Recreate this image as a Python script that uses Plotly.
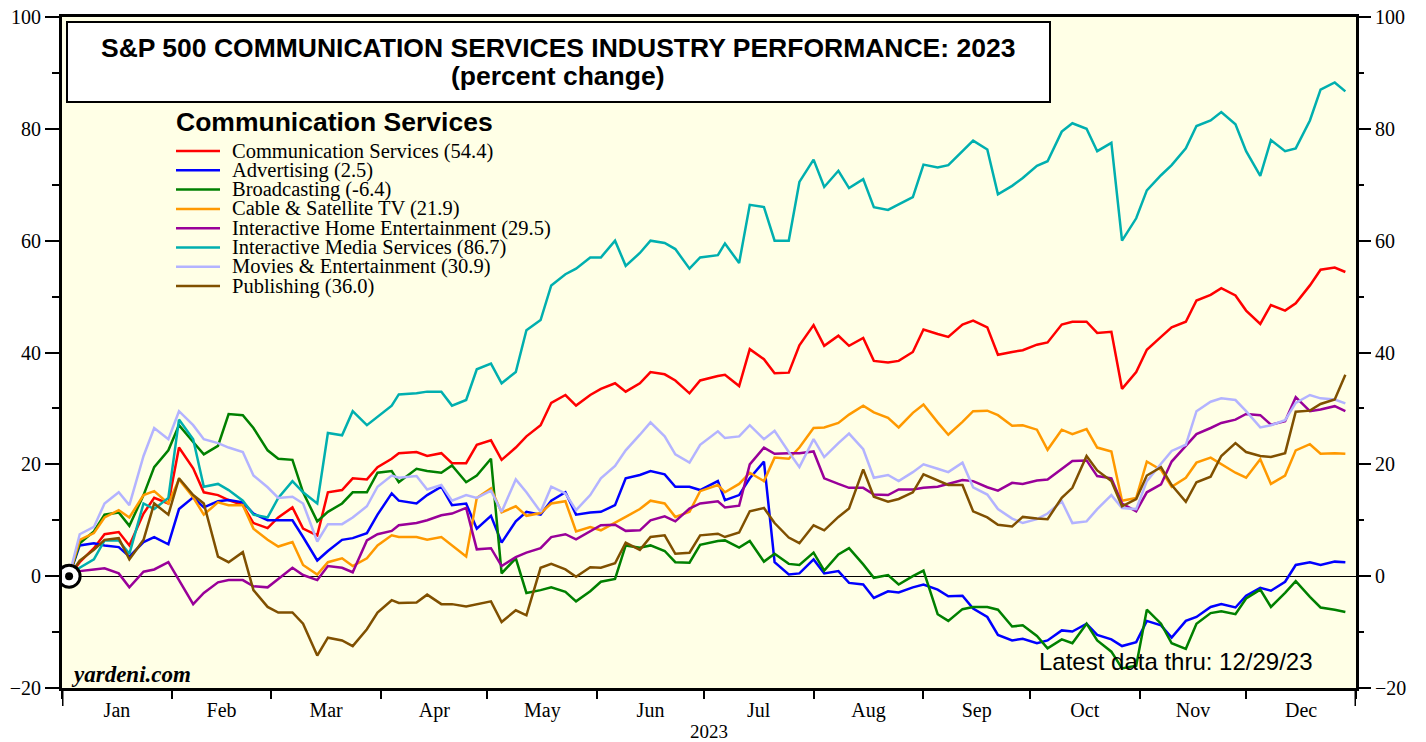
import plotly.graph_objects as go

# ---------------- data ----------------
dates = (
    ["2023-01-03", "2023-01-06", "2023-01-10", "2023-01-13", "2023-01-17", "2023-01-20", "2023-01-24", "2023-01-27", "2023-01-31"]
    + ["2023-02-03", "2023-02-07", "2023-02-10", "2023-02-14", "2023-02-17", "2023-02-21", "2023-02-24", "2023-02-28"]
    + ["2023-03-03", "2023-03-07", "2023-03-10", "2023-03-14", "2023-03-17", "2023-03-21", "2023-03-24", "2023-03-28", "2023-03-31"]
    + ["2023-04-04", "2023-04-06", "2023-04-11", "2023-04-14", "2023-04-18", "2023-04-21", "2023-04-25", "2023-04-28"]
    + ["2023-05-02", "2023-05-05", "2023-05-09", "2023-05-12", "2023-05-16", "2023-05-19", "2023-05-23", "2023-05-26", "2023-05-30"]
    + ["2023-06-02", "2023-06-06", "2023-06-09", "2023-06-13", "2023-06-16", "2023-06-20", "2023-06-23", "2023-06-27", "2023-06-30"]
    + ["2023-07-05", "2023-07-07", "2023-07-11", "2023-07-14", "2023-07-18", "2023-07-21", "2023-07-25", "2023-07-28"]
    + ["2023-08-01", "2023-08-04", "2023-08-08", "2023-08-11", "2023-08-15", "2023-08-18", "2023-08-22", "2023-08-25", "2023-08-29"]
    + ["2023-09-01", "2023-09-05", "2023-09-08", "2023-09-12", "2023-09-15", "2023-09-19", "2023-09-22", "2023-09-26", "2023-09-29"]
    + ["2023-10-03", "2023-10-06", "2023-10-10", "2023-10-13", "2023-10-17", "2023-10-20", "2023-10-24", "2023-10-27", "2023-10-31"]
    + ["2023-11-03", "2023-11-07", "2023-11-10", "2023-11-14", "2023-11-17", "2023-11-21", "2023-11-24", "2023-11-28"]
    + ["2023-12-01", "2023-12-05", "2023-12-08", "2023-12-12", "2023-12-15", "2023-12-19", "2023-12-22", "2023-12-26", "2023-12-29"]
)

communication_services = (
    [0, 2.5, 5, 7.5, 7.9, 5.5, 11.2, 14, 13]
    + [23, 19.3, 15, 14.5, 13.6, 12.7, 9.5, 8.6]
    + [10.5, 12.3, 8.5, 7.3, 15, 15.4, 17.5, 17.3, 19.5]
    + [21, 22, 22.2, 21.5, 22, 20.2, 20.2, 23.5]
    + [24.3, 20.8, 23, 25, 27, 31, 32.4, 30.5, 32.4]
    + [33.5, 34.5, 33, 34.5, 36.5, 36.1, 35, 32.7, 35]
    + [35.8, 36, 34, 40.6, 38.8, 36.3, 36.4, 41.3]
    + [44.9, 41.2, 43, 41.2, 42.6, 38.5, 38.2, 38.5, 40.1]
    + [44.1, 43.3, 42.8, 45, 45.7, 44.5, 39.6, 40.1, 40.4]
    + [41.4, 41.8, 45, 45.5, 45.5, 43.5, 43.7, 33.5, 36.5]
    + [40.5, 42.8, 44.5, 45.5, 49.3, 50.3, 51.5, 50.2]
    + [47.5, 45.1, 48.5, 47.5, 48.8, 52, 54.8, 55.2, 54.4]
)

advertising = (
    [0, 5.5, 5.9, 5.5, 5.2, 3.5, 6.1, 7, 5.7]
    + [12, 14.1, 12.3, 13.4, 13.6, 13.2, 11.2, 10]
    + [10, 10, 7, 2.8, 4.5, 6.5, 6.8, 7.7, 11]
    + [14.8, 13.5, 13, 14.5, 16, 12.7, 13, 8.5]
    + [10.8, 6, 9.8, 11.5, 11, 13.5, 15, 11, 11.4]
    + [11.5, 12.7, 17.5, 18.1, 18.8, 18.2, 16, 16, 15.4]
    + [17, 13.6, 14.5, 17.5, 20.5, 2.5, 0.3, 0.5]
    + [3, 0.5, 0.9, -1.2, -1.5, -3.9, -2.7, -2.9, -2]
    + [-1.5, -2.4, -3.6, -3.5, -5.8, -7.3, -10.5, -11.5, -11.2]
    + [-12, -11.5, -9.7, -9.9, -8.5, -10.5, -11.3, -12.5, -11.8]
    + [-8, -8.8, -11, -8, -7.3, -5.5, -5, -5.6]
    + [-3.5, -2.1, -2.6, -1, 2, 2.5, 2, 2.6, 2.5]
)

broadcasting = (
    [0, 5.9, 8, 11, 11.4, 9, 14.5, 19.5, 22.5]
    + [27, 24, 21.8, 23.3, 29, 28.8, 26.5, 22.5]
    + [21, 20.8, 15, 9.8, 11.5, 13, 15, 15, 18.5]
    + [18.8, 16.8, 19.2, 18.8, 18.5, 19.8, 16.8, 18]
    + [21, 0.5, 3.2, -3, -2.5, -2, -2.8, -4.5, -2.7]
    + [-1, -0.5, 5.5, 5.1, 5.5, 4.5, 2.5, 2.4, 5.6]
    + [6.3, 6.4, 5.1, 6.3, 2.6, 4, 2.2, 2]
    + [4.2, 1, 3.9, 5, 2.1, -0.3, 0.2, -1.5, 0]
    + [1, -6.8, -8, -5.9, -5.5, -5.5, -6, -9, -8.8]
    + [-10.7, -12.9, -11.3, -12, -8.5, -11.5, -13.5, -16.5, -16]
    + [-6, -8.5, -12, -13, -8.5, -6.6, -6.3, -6.8]
    + [-4, -2.4, -5.5, -3, -0.9, -3.7, -5.6, -6, -6.4]
)

cable_satellite = (
    [0, 6.5, 7.7, 10.5, 11.8, 10.5, 14.5, 15.2, 13]
    + [17.3, 14.1, 11, 13.2, 12.7, 12.7, 8.5, 6.5]
    + [5.3, 6.1, 2, 0.3, 2.5, 3.2, 1.8, 3.2, 5.5]
    + [7.3, 7, 7, 6.5, 7, 5.5, 3.5, 14]
    + [15.7, 11.4, 12.5, 10.8, 11.3, 13, 13.4, 8, 8.8]
    + [8.2, 9.5, 10.6, 12, 13.5, 13, 10.6, 11.5, 15.2]
    + [16.3, 15, 16.5, 18.5, 17, 21.2, 21, 23]
    + [26.5, 26.6, 27.4, 28.9, 30.5, 29.3, 28.3, 26.6, 29.2]
    + [30.7, 27.5, 25.3, 27.6, 29.5, 29.6, 28.8, 26.9, 27]
    + [26.2, 22.6, 26.2, 25.4, 26.3, 23, 22.3, 13.5, 14]
    + [20.5, 19, 16, 17.6, 20.3, 21.2, 20.1, 18.5]
    + [17.6, 20.9, 16.5, 18, 22.5, 23.6, 21.9, 22, 21.9]
)

interactive_home_ent = (
    [0, 0.9, 1.2, 1.4, 0.5, -2, 0.8, 1.2, 2.5]
    + [-0.8, -5, -3, -1.1, -0.7, -0.7, -1.8, -2]
    + [-0.5, 1.5, 0.2, -0.7, 1.8, 1.5, 0.7, 6.4, 7.5]
    + [8.1, 9.1, 9.5, 10, 10.9, 11.2, 12.2, 4.8]
    + [5, 1.8, 3.4, 4.2, 5, 7, 7.5, 6.6, 8]
    + [9.1, 9.2, 8.1, 8.2, 10, 10.7, 9.8, 12.1, 13]
    + [13.4, 12.3, 12.6, 20, 23, 21.9, 22, 22]
    + [22.3, 17.5, 16.5, 15.8, 15.8, 14.6, 14.5, 15.5, 15.5]
    + [15.8, 16, 16.5, 17.2, 17, 15.9, 15.3, 16.7, 16.5]
    + [17.1, 17.3, 19.2, 20.6, 20.7, 17.9, 17.5, 13, 11.6]
    + [15, 16.4, 20.5, 23.3, 25.4, 26.5, 27.4, 28]
    + [29, 28.8, 27.1, 27.7, 32, 29.5, 29.8, 30.4, 29.5]
)

interactive_media = (
    [0, 1.5, 3, 6.4, 6.4, 4.0, 13, 12, 14]
    + [28, 24.5, 16, 16.5, 15.4, 13.5, 11, 10.5]
    + [14, 17, 15, 13, 25.6, 25.2, 29.5, 27, 28.5]
    + [30.5, 32.5, 32.7, 33, 33, 30.5, 31.5, 37]
    + [38, 34.5, 36.5, 44, 45.8, 52, 54, 55, 57]
    + [57, 60, 55.5, 57.8, 60, 59.6, 58.5, 55, 57]
    + [57.4, 59.5, 56, 66.4, 66, 60, 60, 70.5]
    + [74.5, 69.6, 72.5, 69.4, 71, 66, 65.5, 66.5, 67.8]
    + [73.6, 73.1, 73.5, 76, 77.9, 76.3, 68.3, 69.8, 71.2]
    + [73.4, 74.2, 79.5, 81, 80, 76, 77.5, 60, 64]
    + [69, 71.7, 73.5, 76.5, 80.5, 81.5, 83, 80.8]
    + [76, 71.6, 78, 76, 76.5, 81.5, 87, 88.3, 86.7]
)

movies_ent = (
    [0, 7.5, 8.8, 13, 15, 12.7, 21.5, 26.5, 24.5]
    + [29.5, 27, 24.5, 23.8, 23, 22.2, 18, 15.9]
    + [14, 14.2, 13, 6.2, 9.3, 9.3, 10.5, 12.5, 16]
    + [18, 17.6, 17.9, 15.5, 16.3, 13.5, 14.5, 14]
    + [15.3, 11.5, 17.3, 15, 11.5, 16, 14.8, 11.8, 14.5]
    + [17.5, 19.7, 22.5, 25.3, 27.5, 25, 21.8, 20.3, 23.5]
    + [25.9, 24.7, 25, 27, 24.5, 26, 22.2, 19.5]
    + [24.5, 21.3, 23.8, 25.5, 22.7, 17.6, 18.1, 17, 18.6]
    + [20, 19.2, 18.6, 20.3, 15.9, 14.6, 12, 10.3, 9.5]
    + [10.2, 11.2, 13.4, 9.5, 9.8, 12, 14.5, 12.2, 12]
    + [17, 20.1, 22.4, 23.5, 29.5, 31.2, 31.8, 31.5]
    + [29.5, 26.6, 27, 27.9, 31, 32.4, 31.8, 31.6, 30.9]
)

publishing = (
    [0, 2.8, 4.7, 6.5, 6.8, 3, 6.5, 13, 11]
    + [17.5, 14.5, 13, 3.5, 2.5, 4.3, -2.5, -5.5]
    + [-6.5, -6.5, -8.5, -14.2, -11, -11.5, -12.5, -9.5, -6.5]
    + [-4.3, -4.8, -4.7, -3.3, -5, -5, -5.4, -5]
    + [-4.5, -8.2, -6.1, -7, 1.5, 2.2, 1.2, -0.1, 1.6]
    + [1.5, 2.3, 6, 4.7, 7, 7.3, 4, 4.2, 7.3]
    + [7.6, 7, 7.8, 11.6, 12.2, 9.5, 6.9, 5.9]
    + [9.1, 8.2, 10.6, 12.1, 19.1, 14.2, 13.3, 13.8, 15]
    + [18.2, 17.1, 16.3, 16.3, 11.6, 10.5, 9.2, 8.9, 10.6]
    + [10.3, 10.2, 14, 15.8, 21.5, 18.9, 17, 12.5, 13.8]
    + [18, 19.5, 16.3, 13.3, 16.8, 17.8, 21.5, 23.8]
    + [22.2, 21.5, 21.3, 22, 29.4, 29.6, 30.8, 31.6, 36.0]
)

series_names = [
    "Communication Services", "Advertising", "Broadcasting", "Cable & Satellite TV",
    "Interactive Home Entertainment", "Interactive Media Services",
    "Movies & Entertainment", "Publishing",
]
series_values = [
    communication_services, advertising, broadcasting, cable_satellite,
    interactive_home_ent, interactive_media, movies_ent, publishing,
]
ytd_change = [54.4, 2.5, -6.4, 21.9, 29.5, 86.7, 30.9, 36.0]
series_colors = ["#ff0000", "#0000ff", "#008000", "#ff9900",
                 "#990099", "#00afaf", "#b3b3ff", "#805000"]

y_ticks = [-20, 0, 20, 40, 60, 80, 100]

for v in series_values:
    assert len(v) == len(dates)

# ---------------- layout helpers ----------------
# The page body has an 8px margin, so the figure is placed at (8, 8).
OFF = 8
W, H = 1426 - OFF, 742 - OFF
L, R, T, B = 62 - OFF, 70, 17 - OFF, 54
PW, PH = W - L - R, H - T - B      # 1294 x 671


def px(x):
    """reference-window x pixel -> paper coordinate"""
    return (x - OFF - L) / PW


def py(y):
    """reference-window y pixel -> paper coordinate"""
    return (OFF + H - B - y) / PH


SERIF = "Liberation Serif"
SANS = "Liberation Sans"

fig = go.Figure()
for name, vals, col in zip(series_names, series_values, series_colors):
    fig.add_trace(go.Scatter(x=dates, y=vals, mode="lines", name=name,
                             line=dict(color=col, width=2.5), showlegend=False,
                             hoverinfo="x+y+name"))

# origin marker
fig.add_trace(go.Scatter(x=[dates[0]], y=[0], yaxis="y2", mode="markers", showlegend=False,
                         marker=dict(size=22, color="white", line=dict(color="black", width=3)),
                         hoverinfo="skip"))
fig.add_trace(go.Scatter(x=[dates[0]], y=[0], yaxis="y2", mode="markers", showlegend=False,
                         marker=dict(size=8, color="black"), hoverinfo="skip"))

tickfont = dict(family=SERIF, size=20, color="black")
minor = dict(dtick=10, tick0=0, ticks="outside", ticklen=7, tickwidth=1.5,
             tickcolor="black", showgrid=False)

shapes = []
annotations = []

# title box
shapes.append(dict(type="rect", xref="paper", yref="paper",
                   x0=px(67), x1=px(1050), y0=py(102), y1=py(22),
                   fillcolor="white", line=dict(color="black", width=2), layer="above"))
annotations.append(dict(xref="paper", yref="paper", x=px(558), y=py(48),
                        text="<b>S&P 500 COMMUNICATION SERVICES INDUSTRY PERFORMANCE: 2023</b>",
                        showarrow=False, xanchor="center", yanchor="middle",
                        font=dict(family=SANS, size=26.5, color="black")))
annotations.append(dict(xref="paper", yref="paper", x=px(558), y=py(76),
                        text="<b>(percent change)</b>",
                        showarrow=False, xanchor="center", yanchor="middle",
                        font=dict(family=SANS, size=26.5, color="black")))

# legend (manual)
annotations.append(dict(xref="paper", yref="paper", x=px(174), y=py(122),
                        text="<b>Communication Services</b>", showarrow=False,
                        xanchor="left", yanchor="middle",
                        font=dict(family=SANS, size=26.5, color="black")))
for i, (name, v, col) in enumerate(zip(series_names, ytd_change, series_colors)):
    yc = 151 + i * 19.3
    shapes.append(dict(type="line", xref="paper", yref="paper",
                       x0=px(176), x1=px(220), y0=py(yc), y1=py(yc),
                       line=dict(color=col, width=2.5)))
    annotations.append(dict(xref="paper", yref="paper", x=px(230), y=py(yc),
                            text=f"{name} ({v:.1f})", showarrow=False,
                            xanchor="left", yanchor="middle",
                            font=dict(family=SERIF, size=20.5, color="black")))

annotations.append(dict(xref="paper", yref="paper", x=px(69), y=py(674),
                        text="<b><i>yardeni.com</i></b>", showarrow=False,
                        xanchor="left", yanchor="middle",
                        font=dict(family=SERIF, size=23, color="black")))
annotations.append(dict(xref="paper", yref="paper", x=px(1315), y=py(661),
                        text="Latest data thru: 12/29/23", showarrow=False,
                        xanchor="right", yanchor="middle",
                        font=dict(family=SANS, size=24, color="black")))

# longer year-boundary ticks
for xd in ["2023-01-01", "2024-01-01"]:
    shapes.append(dict(type="line", xref="x", yref="paper", x0=xd, x1=xd,
                       y0=0, y1=-18 / PH, line=dict(color="black", width=3)))

fig.update_layout(
    width=W, height=H, margin=dict(l=L, r=R, t=T, b=B, pad=0, autoexpand=False),
    paper_bgcolor="white", plot_bgcolor="#ffffe6",
    showlegend=False,
    xaxis=dict(type="date", range=["2023-01-01", "2024-01-01"], dtick="M1",
               tick0="2023-01-01", tickformat="%b", ticklabelmode="period",
               ticks="outside", ticklen=8, tickwidth=2, tickcolor="black",
               showline=True, linewidth=3, linecolor="black", mirror=True,
               showgrid=False, zeroline=False, tickfont=tickfont, automargin=False,
               ticklabelstandoff=-6, ticklabeloverflow="allow",
               title=dict(text="2023", font=dict(family=SERIF, size=19, color="black"),
                          standoff=8)),
    yaxis=dict(range=[-20, 100], tickvals=y_ticks, ticks="outside", ticklen=14,
               tickwidth=1.5, tickcolor="black", showline=True, linewidth=3,
               linecolor="black", mirror=True, zeroline=True, zerolinecolor="black",
               zerolinewidth=1, showgrid=False, minor=minor, tickfont=tickfont,
               automargin=False, ticklabeloverflow="allow"),
    yaxis2=dict(range=[-20, 100], tickvals=y_ticks, ticks="outside", ticklen=14,
                tickwidth=1.5, tickcolor="black", overlaying="y", side="right",
                showline=False, zeroline=False, showgrid=False, minor=minor,
                tickfont=tickfont, automargin=False, ticklabeloverflow="allow"),
    shapes=shapes, annotations=annotations,
)

fig.write_html("out.html")
